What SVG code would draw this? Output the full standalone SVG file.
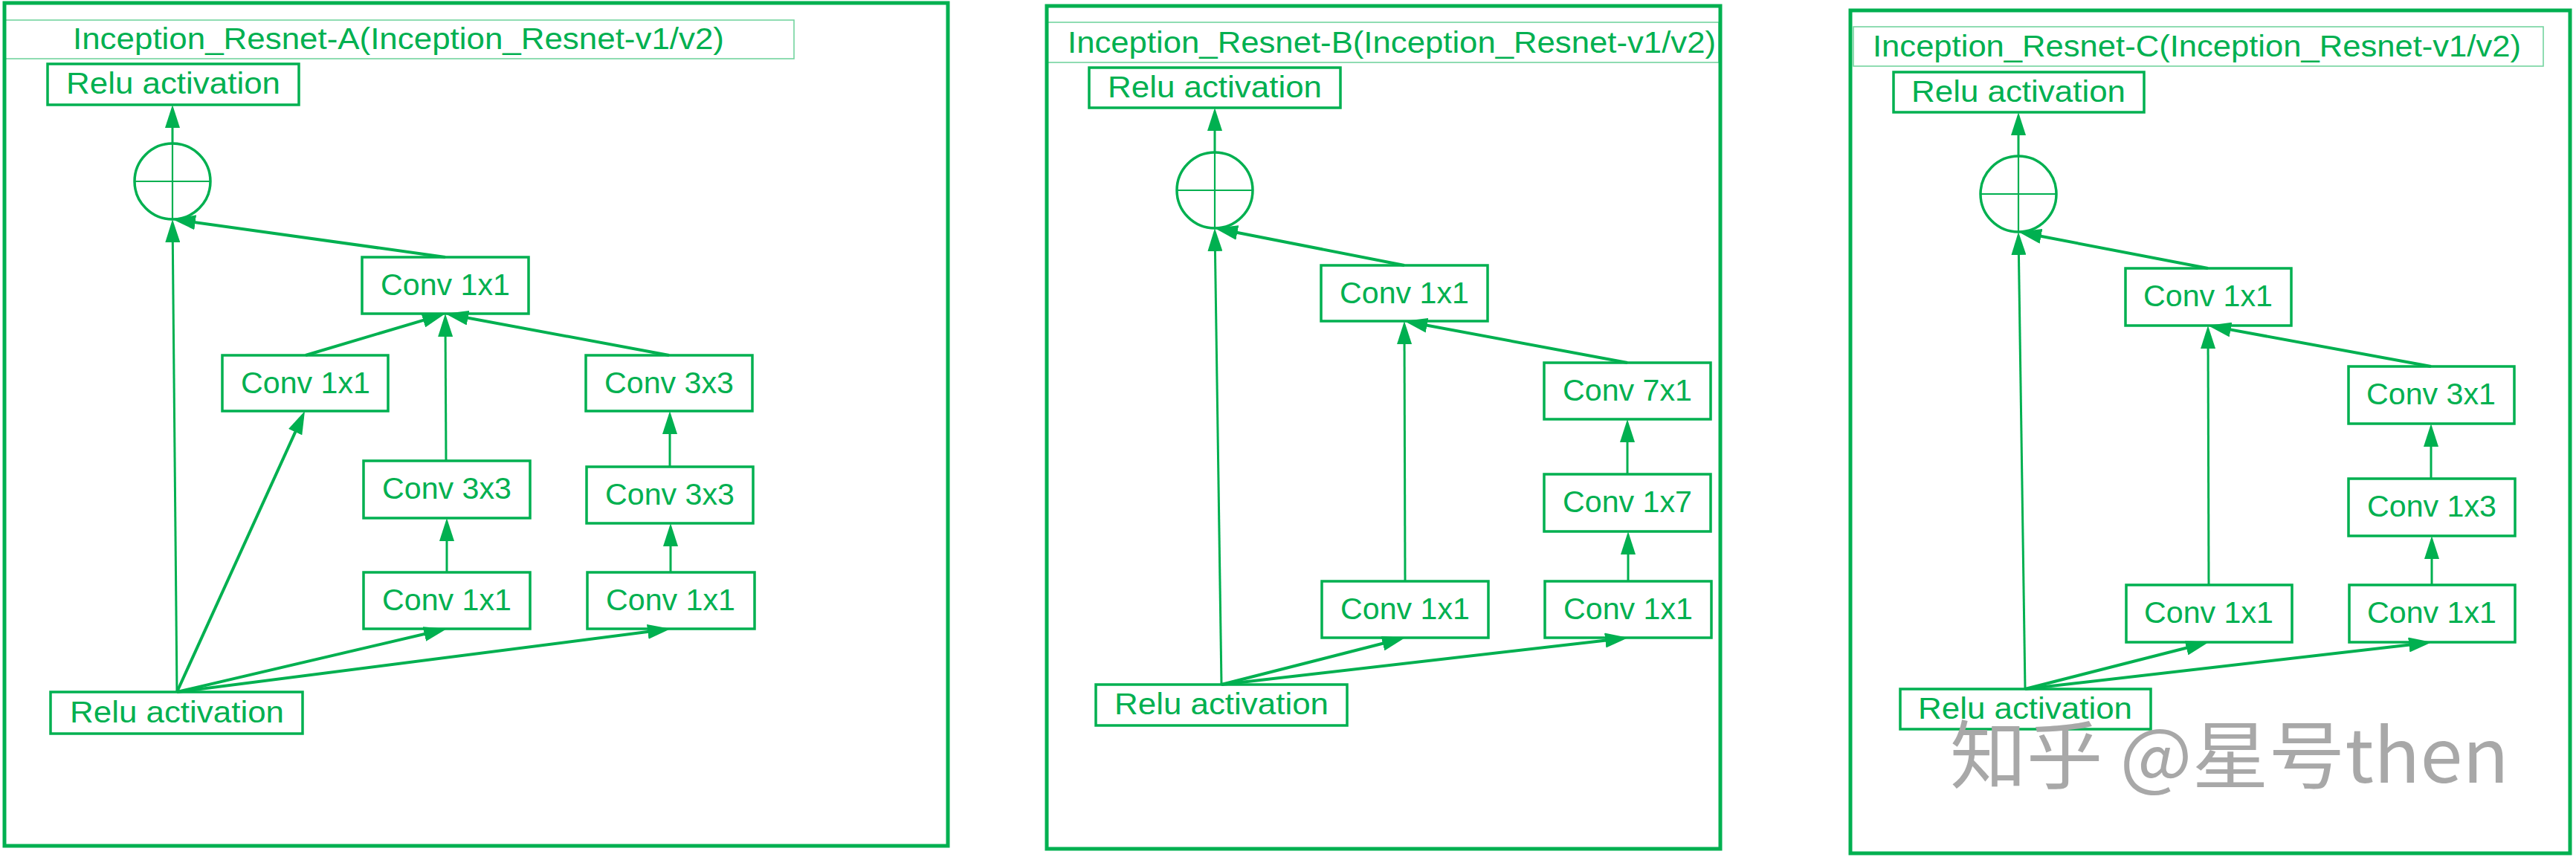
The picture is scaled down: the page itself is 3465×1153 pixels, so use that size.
<svg xmlns="http://www.w3.org/2000/svg" width="3465" height="1153" viewBox="0 0 3465 1153">
<style>
.panel{fill:none;stroke:#00B050;stroke-width:5}
.tbox{fill:none;stroke:#00B050;stroke-width:1.6;stroke-opacity:0.55}
.box{fill:#ffffff;stroke:#00B050;stroke-width:3.5}
.ring{fill:none;stroke:#00B050;stroke-width:3.5}
.cross{stroke:#00B050;stroke-width:2.2}
.lbl{font-family:"Liberation Sans",Arial,sans-serif;font-size:40px;fill:#00B050;text-anchor:middle}
.ttl{font-family:"Liberation Sans",Arial,sans-serif;font-size:40px;fill:#00B050}
.v{fill:none;stroke:#00B050;stroke-width:3;marker-end:url(#ah)}
.d{fill:none;stroke:#00B050;stroke-width:4;marker-end:url(#ah)}
.wm{font-family:"Noto Sans CJK SC","Noto Sans",sans-serif;font-size:100px;fill:#a8a8a8}
</style>
<defs>
<marker id="ah" markerUnits="userSpaceOnUse" viewBox="0 0 31 20" markerWidth="31" markerHeight="20" refX="23" refY="10" orient="auto">
<path d="M0,0 L31,10 L0,20 z" fill="#00B050"/>
</marker>
</defs>
<rect width="3465" height="1153" fill="#ffffff"/>

<!-- Panel A -->
<g id="panelA">
<rect class="panel" x="6" y="4" width="1269" height="1134"/>
<rect class="tbox" x="7" y="27" width="1061" height="52"/>
<text class="ttl" x="98" y="66" textLength="876" lengthAdjust="spacingAndGlyphs">Inception_Resnet-A(Inception_Resnet-v1/v2)</text>
</g>
<g id="A_relu_top"><rect class="box" x="64" y="86" width="338" height="55"/><text class="lbl" x="233" y="126" textLength="288" lengthAdjust="spacingAndGlyphs">Relu activation</text></g>
<g id="A_add"><circle class="ring" cx="232" cy="244" r="51"/><line class="cross" x1="181" y1="244" x2="283" y2="244"/><line class="cross" x1="232" y1="193" x2="232" y2="295"/></g>
<g id="A_conv1x1_top"><rect class="box" x="487" y="346" width="224" height="76"/><text class="lbl" x="599" y="397" textLength="174" lengthAdjust="spacingAndGlyphs">Conv 1x1</text></g>
<g id="A_conv1x1_left"><rect class="box" x="299" y="478" width="223" height="75"/><text class="lbl" x="411" y="529" textLength="174" lengthAdjust="spacingAndGlyphs">Conv 1x1</text></g>
<g id="A_conv3x3_r1"><rect class="box" x="788" y="478" width="224" height="75"/><text class="lbl" x="900" y="529" textLength="174" lengthAdjust="spacingAndGlyphs">Conv 3x3</text></g>
<g id="A_conv3x3_mid"><rect class="box" x="489" y="620" width="224" height="77"/><text class="lbl" x="601" y="671" textLength="174" lengthAdjust="spacingAndGlyphs">Conv 3x3</text></g>
<g id="A_conv3x3_r2"><rect class="box" x="789" y="628" width="224" height="76"/><text class="lbl" x="901" y="679" textLength="174" lengthAdjust="spacingAndGlyphs">Conv 3x3</text></g>
<g id="A_conv1x1_mid"><rect class="box" x="489" y="770" width="224" height="76"/><text class="lbl" x="601" y="821" textLength="174" lengthAdjust="spacingAndGlyphs">Conv 1x1</text></g>
<g id="A_conv1x1_right"><rect class="box" x="790" y="770" width="225" height="76"/><text class="lbl" x="902" y="821" textLength="174" lengthAdjust="spacingAndGlyphs">Conv 1x1</text></g>
<g id="A_relu_bottom"><rect class="box" x="68" y="931" width="339" height="56"/><text class="lbl" x="238" y="972" textLength="288" lengthAdjust="spacingAndGlyphs">Relu activation</text></g>

<!-- Panel B -->
<g id="panelB">
<rect class="panel" x="1408" y="8" width="906" height="1134"/>
<rect class="tbox" x="1408" y="30" width="904" height="54"/>
<text class="ttl" x="1436" y="71" textLength="872" lengthAdjust="spacingAndGlyphs">Inception_Resnet-B(Inception_Resnet-v1/v2)</text>
</g>
<g id="B_relu_top"><rect class="box" x="1465" y="91" width="338" height="54"/><text class="lbl" x="1634" y="131" textLength="288" lengthAdjust="spacingAndGlyphs">Relu activation</text></g>
<g id="B_add"><circle class="ring" cx="1634" cy="256" r="51"/><line class="cross" x1="1583" y1="256" x2="1685" y2="256"/><line class="cross" x1="1634" y1="205" x2="1634" y2="307"/></g>
<g id="B_conv1x1_top"><rect class="box" x="1777" y="357" width="224" height="75"/><text class="lbl" x="1889" y="408" textLength="174" lengthAdjust="spacingAndGlyphs">Conv 1x1</text></g>
<g id="B_conv7x1"><rect class="box" x="2077" y="488" width="224" height="76"/><text class="lbl" x="2189" y="539" textLength="174" lengthAdjust="spacingAndGlyphs">Conv 7x1</text></g>
<g id="B_conv1x7"><rect class="box" x="2077" y="638" width="224" height="77"/><text class="lbl" x="2189" y="689" textLength="174" lengthAdjust="spacingAndGlyphs">Conv 1x7</text></g>
<g id="B_conv1x1_mid"><rect class="box" x="1778" y="782" width="224" height="76"/><text class="lbl" x="1890" y="833" textLength="174" lengthAdjust="spacingAndGlyphs">Conv 1x1</text></g>
<g id="B_conv1x1_right"><rect class="box" x="2078" y="782" width="224" height="76"/><text class="lbl" x="2190" y="833" textLength="174" lengthAdjust="spacingAndGlyphs">Conv 1x1</text></g>
<g id="B_relu_bottom"><rect class="box" x="1474" y="921" width="338" height="55"/><text class="lbl" x="1643" y="961" textLength="288" lengthAdjust="spacingAndGlyphs">Relu activation</text></g>

<!-- Panel C -->
<g id="panelC">
<rect class="panel" x="2489" y="14" width="968" height="1134"/>
<rect class="tbox" x="2493" y="36" width="928" height="53"/>
<text class="ttl" x="2519" y="76" textLength="872" lengthAdjust="spacingAndGlyphs">Inception_Resnet-C(Inception_Resnet-v1/v2)</text>
</g>
<g id="C_relu_top"><rect class="box" x="2547" y="97" width="337" height="54"/><text class="lbl" x="2715" y="137" textLength="288" lengthAdjust="spacingAndGlyphs">Relu activation</text></g>
<g id="C_add"><circle class="ring" cx="2715" cy="261" r="51"/><line class="cross" x1="2664" y1="261" x2="2766" y2="261"/><line class="cross" x1="2715" y1="210" x2="2715" y2="312"/></g>
<g id="C_conv1x1_top"><rect class="box" x="2859" y="361" width="223" height="77"/><text class="lbl" x="2970" y="412" textLength="174" lengthAdjust="spacingAndGlyphs">Conv 1x1</text></g>
<g id="C_conv3x1"><rect class="box" x="3159" y="493" width="223" height="77"/><text class="lbl" x="3270" y="544" textLength="174" lengthAdjust="spacingAndGlyphs">Conv 3x1</text></g>
<g id="C_conv1x3"><rect class="box" x="3159" y="644" width="224" height="77"/><text class="lbl" x="3271" y="695" textLength="174" lengthAdjust="spacingAndGlyphs">Conv 1x3</text></g>
<g id="C_conv1x1_mid"><rect class="box" x="2860" y="787" width="223" height="77"/><text class="lbl" x="2971" y="838" textLength="174" lengthAdjust="spacingAndGlyphs">Conv 1x1</text></g>
<g id="C_conv1x1_right"><rect class="box" x="3160" y="787" width="223" height="77"/><text class="lbl" x="3271" y="838" textLength="174" lengthAdjust="spacingAndGlyphs">Conv 1x1</text></g>
<g id="C_relu_bottom"><rect class="box" x="2556" y="927" width="337" height="54"/><text class="lbl" x="2724" y="967" textLength="288" lengthAdjust="spacingAndGlyphs">Relu activation</text></g>

<g id="connectors">
<!-- A -->
<path class="v" d="M232,193 L232,149"/>
<path class="v" d="M238,931 L232.1,303"/>
<path class="d" d="M599,346 L239.9,296.1"/>
<path class="d" d="M411,478 L591.3,424.3"/>
<path class="v" d="M600,620 L599,430"/>
<path class="d" d="M900,478 L606.9,423.5"/>
<path class="v" d="M901,628 L901,561"/>
<path class="v" d="M601,770 L601,705"/>
<path class="v" d="M902,770 L902,712"/>
<path class="d" d="M238,931 L406.7,560.3"/>
<path class="d" d="M238,931 L593.2,847.8"/>
<path class="d" d="M238,931 L894.1,847"/>
<!-- B -->
<path class="v" d="M1634,205 L1634,153"/>
<path class="v" d="M1643,921 L1634.1,315"/>
<path class="d" d="M1889,357 L1641.8,308.5"/>
<path class="v" d="M1890,782 L1889,440"/>
<path class="d" d="M2189,488 L1896.9,433.5"/>
<path class="v" d="M2189,638 L2189,572"/>
<path class="v" d="M2190,782 L2190,723"/>
<path class="d" d="M1643,921 L1882.2,860"/>
<path class="d" d="M1643,921 L2182.1,858.9"/>
<!-- C -->
<path class="v" d="M2715,210 L2715,159"/>
<path class="v" d="M2724,927 L2715.1,320"/>
<path class="d" d="M2970,361 L2722.9,313.5"/>
<path class="v" d="M2971,787 L2970,446"/>
<path class="d" d="M3270,493 L2977.9,439.4"/>
<path class="v" d="M3270,644 L3270,578"/>
<path class="v" d="M3271,787 L3271,729"/>
<path class="d" d="M2724,927 L2963.2,866"/>
<path class="d" d="M2724,927 L3263.1,864.9"/>
</g>

<text class="wm" x="2623" y="1053" textLength="752" lengthAdjust="spacingAndGlyphs">知乎 @星号then</text>
</svg>
